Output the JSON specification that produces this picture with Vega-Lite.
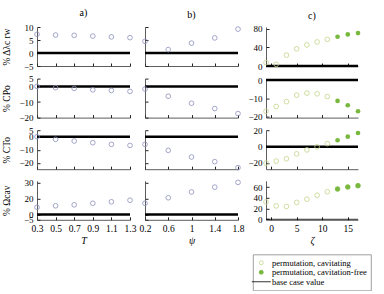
{
  "$schema": "https://vega.github.io/schema/vega-lite/v6.json",
  "padding": {"left": 1, "top": 7, "right": 0, "bottom": 0},
  "datasets": {
    "d": [
      {"p":"a","m":"dl","x":0.3,"v":7.2},{"p":"a","m":"dl","x":0.5,"v":6.9},{"p":"a","m":"dl","x":0.7,"v":6.8},{"p":"a","m":"dl","x":0.9,"v":6.5},{"p":"a","m":"dl","x":1.1,"v":6.2},{"p":"a","m":"dl","x":1.3,"v":5.9},
      {"p":"a","m":"cpo","x":0.3,"v":0},{"p":"a","m":"cpo","x":0.5,"v":-0.8},{"p":"a","m":"cpo","x":0.7,"v":-1.3},{"p":"a","m":"cpo","x":0.9,"v":-2.2},{"p":"a","m":"cpo","x":1.1,"v":-2.6},{"p":"a","m":"cpo","x":1.3,"v":-3.2},
      {"p":"a","m":"cto","x":0.3,"v":0},{"p":"a","m":"cto","x":0.5,"v":-2},{"p":"a","m":"cto","x":0.7,"v":-3.3},{"p":"a","m":"cto","x":0.9,"v":-4.6},{"p":"a","m":"cto","x":1.1,"v":-5.9},{"p":"a","m":"cto","x":1.3,"v":-6.7},
      {"p":"a","m":"cav","x":0.3,"v":6.9},{"p":"a","m":"cav","x":0.5,"v":8.3},{"p":"a","m":"cav","x":0.7,"v":9.2},{"p":"a","m":"cav","x":0.9,"v":10.7},{"p":"a","m":"cav","x":1.1,"v":12.1},{"p":"a","m":"cav","x":1.3,"v":13.6},
      {"p":"b","m":"dl","x":0.2,"v":4.5},{"p":"b","m":"dl","x":0.6,"v":1.3},{"p":"b","m":"dl","x":1.0,"v":3.8},{"p":"b","m":"dl","x":1.4,"v":5.8},{"p":"b","m":"dl","x":1.8,"v":9.2},
      {"p":"b","m":"cpo","x":0.2,"v":-1.7},{"p":"b","m":"cpo","x":0.6,"v":-6.3},{"p":"b","m":"cpo","x":1.0,"v":-10.8},{"p":"b","m":"cpo","x":1.4,"v":-14.2},{"p":"b","m":"cpo","x":1.8,"v":-17.4},
      {"p":"b","m":"cto","x":0.2,"v":-5.9},{"p":"b","m":"cto","x":0.6,"v":-10.5},{"p":"b","m":"cto","x":1.0,"v":-15.6},{"p":"b","m":"cto","x":1.4,"v":-19.2},{"p":"b","m":"cto","x":1.8,"v":-23.8},
      {"p":"b","m":"cav","x":0.2,"v":10.7},{"p":"b","m":"cav","x":0.6,"v":15.9},{"p":"b","m":"cav","x":1.0,"v":21.4},{"p":"b","m":"cav","x":1.4,"v":26},{"p":"b","m":"cav","x":1.8,"v":30.5},
      {"p":"c","m":"dl","x":-1,"v":7.2,"s":"o"},{"p":"c","m":"dl","x":1,"v":3.6,"s":"o"},{"p":"c","m":"dl","x":3,"v":23.4,"s":"o"},{"p":"c","m":"dl","x":5,"v":37,"s":"o"},{"p":"c","m":"dl","x":7,"v":45.4,"s":"o"},{"p":"c","m":"dl","x":9,"v":51.8,"s":"o"},{"p":"c","m":"dl","x":11,"v":57.3,"s":"o"},{"p":"c","m":"dl","x":13,"v":63,"s":"f"},{"p":"c","m":"dl","x":15,"v":68,"s":"f"},{"p":"c","m":"dl","x":17,"v":71,"s":"f"},
      {"p":"c","m":"cpo","x":-1,"v":-17.2,"s":"o"},{"p":"c","m":"cpo","x":1,"v":-14.6,"s":"o"},{"p":"c","m":"cpo","x":3,"v":-11.9,"s":"o"},{"p":"c","m":"cpo","x":5,"v":-8.3,"s":"o"},{"p":"c","m":"cpo","x":7,"v":-7.2,"s":"o"},{"p":"c","m":"cpo","x":9,"v":-7.6,"s":"o"},{"p":"c","m":"cpo","x":11,"v":-9.1,"s":"o"},{"p":"c","m":"cpo","x":13,"v":-11.5,"s":"f"},{"p":"c","m":"cpo","x":15,"v":-13.9,"s":"f"},{"p":"c","m":"cpo","x":17,"v":-17.2,"s":"f"},
      {"p":"c","m":"cto","x":-1,"v":-20.4,"s":"o"},{"p":"c","m":"cto","x":1,"v":-17.9,"s":"o"},{"p":"c","m":"cto","x":3,"v":-15,"s":"o"},{"p":"c","m":"cto","x":5,"v":-8.9,"s":"o"},{"p":"c","m":"cto","x":7,"v":-4,"s":"o"},{"p":"c","m":"cto","x":9,"v":-0.2,"s":"o"},{"p":"c","m":"cto","x":11,"v":3.8,"s":"o"},{"p":"c","m":"cto","x":13,"v":8,"s":"f"},{"p":"c","m":"cto","x":15,"v":12.5,"s":"f"},{"p":"c","m":"cto","x":17,"v":17,"s":"f"},
      {"p":"c","m":"cav","x":-1,"v":32.5,"s":"o"},{"p":"c","m":"cav","x":1,"v":25,"s":"o"},{"p":"c","m":"cav","x":3,"v":24,"s":"o"},{"p":"c","m":"cav","x":5,"v":31.5,"s":"o"},{"p":"c","m":"cav","x":7,"v":37.6,"s":"o"},{"p":"c","m":"cav","x":9,"v":45,"s":"o"},{"p":"c","m":"cav","x":11,"v":51.5,"s":"o"},{"p":"c","m":"cav","x":13,"v":56.6,"s":"f"},{"p":"c","m":"cav","x":15,"v":60.4,"s":"f"},{"p":"c","m":"cav","x":17,"v":62.8,"s":"f"}
    ]
  },
  "data": {"name": "d"},
  "columns": 3,
  "spacing": {"row": 3.6, "column": 3},
  "concat": [
    {"title": {"text": "a)", "offset": 5.5}, "width": 93, "height": 39, "layer": [
      {"data": {"values": [{}]}, "mark": {"type": "rule", "color": "#000", "strokeWidth": 2.5}, "encoding": {"y": {"datum": 0, "type": "quantitative", "scale": {"domain": [-5, 10], "nice": false, "zero": false}, "axis": {"values": [-5, 0, 5, 10], "title": "% Δλc rw", "minExtent": 19, "maxExtent": 19}}}},
      {"transform": [{"filter": "datum.p=='a'&&datum.m=='dl'"}], "mark": {"type": "point", "color": "#8d91bc"}, "encoding": {
        "x": {"field": "x", "type": "quantitative", "scale": {"domain": [0.3, 1.3], "nice": false, "zero": false}, "axis": {"values": [0.3, 0.5, 0.7, 0.9, 1.1, 1.3], "labels": false, "title": null, "minExtent": 5}},
        "y": {"field": "v", "type": "quantitative", "scale": {"domain": [-5, 10], "nice": false, "zero": false}, "axis": {"values": [-5, 0, 5, 10], "title": "% Δλc rw", "minExtent": 19, "maxExtent": 19}}}}
    ]},
    {"title": {"text": "b)", "offset": 5.5}, "width": 93, "height": 39, "layer": [
      {"data": {"values": [{}]}, "mark": {"type": "rule", "color": "#000", "strokeWidth": 2.5}, "encoding": {"y": {"datum": 0, "type": "quantitative", "scale": {"domain": [-5, 10], "nice": false, "zero": false}, "axis": {"values": [-5, 0, 5, 10], "labels": false, "title": null}}}},
      {"transform": [{"filter": "datum.p=='b'&&datum.m=='dl'"}], "mark": {"type": "point", "color": "#8d91bc"}, "encoding": {
        "x": {"field": "x", "type": "quantitative", "scale": {"domain": [0.2, 1.8], "nice": false, "zero": false}, "axis": {"values": [0.2, 0.6, 1, 1.4, 1.8], "labels": false, "title": null, "minExtent": 5}},
        "y": {"field": "v", "type": "quantitative", "scale": {"domain": [-5, 10], "nice": false, "zero": false}, "axis": {"values": [-5, 0, 5, 10], "labels": false, "title": null}}}}
    ]},
    {"title": {"text": "c)", "offset": 3.5}, "width": 92, "height": 39, "layer": [
      {"data": {"values": [{}]}, "mark": {"type": "rule", "color": "#000", "strokeWidth": 2.5}, "encoding": {"y": {"datum": 0, "type": "quantitative", "scale": {"domain": [0, 84], "nice": false, "zero": false}, "axis": {"values": [0, 40, 80], "title": null, "minExtent": 18, "maxExtent": 18}}}},
      {"transform": [{"filter": "datum.p=='c'&&datum.m=='dl'&&datum.s=='o'"}], "mark": {"type": "point", "color": "#c3d48a"}, "encoding": {
        "x": {"field": "x", "type": "quantitative", "scale": {"domain": [-1, 17], "nice": false, "zero": false}, "axis": {"values": [0, 5, 10, 15], "labels": false, "title": null, "minExtent": 5}},
        "y": {"field": "v", "type": "quantitative", "scale": {"domain": [0, 84], "nice": false, "zero": false}, "axis": {"values": [0, 40, 80], "title": null, "minExtent": 18, "maxExtent": 18}}}},
      {"transform": [{"filter": "datum.p=='c'&&datum.m=='dl'&&datum.s=='f'"}], "mark": {"type": "point", "color": "#79b83f", "filled": true}, "encoding": {
        "x": {"field": "x", "type": "quantitative", "scale": {"domain": [-1, 17], "nice": false, "zero": false}, "axis": {"values": [0, 5, 10, 15], "labels": false, "title": null, "minExtent": 5}},
        "y": {"field": "v", "type": "quantitative", "scale": {"domain": [0, 84], "nice": false, "zero": false}, "axis": {"values": [0, 40, 80], "title": null, "minExtent": 18, "maxExtent": 18}}}}
    ]},

    {"width": 93, "height": 39, "layer": [
      {"data": {"values": [{}]}, "mark": {"type": "rule", "color": "#000", "strokeWidth": 2.5}, "encoding": {"y": {"datum": 0, "type": "quantitative", "scale": {"domain": [-20, 5], "nice": false, "zero": false}, "axis": {"values": [-20, -10, 0, 5], "title": "% CPo", "minExtent": 19, "maxExtent": 19}}}},
      {"transform": [{"filter": "datum.p=='a'&&datum.m=='cpo'"}], "mark": {"type": "point", "color": "#8d91bc"}, "encoding": {
        "x": {"field": "x", "type": "quantitative", "scale": {"domain": [0.3, 1.3], "nice": false, "zero": false}, "axis": {"values": [0.3, 0.5, 0.7, 0.9, 1.1, 1.3], "labels": false, "title": null, "minExtent": 5}},
        "y": {"field": "v", "type": "quantitative", "scale": {"domain": [-20, 5], "nice": false, "zero": false}, "axis": {"values": [-20, -10, 0, 5], "title": "% CPo", "minExtent": 19, "maxExtent": 19}}}}
    ]},
    {"width": 93, "height": 39, "layer": [
      {"data": {"values": [{}]}, "mark": {"type": "rule", "color": "#000", "strokeWidth": 2.5}, "encoding": {"y": {"datum": 0, "type": "quantitative", "scale": {"domain": [-20, 5], "nice": false, "zero": false}, "axis": {"values": [-20, -10, 0, 5], "labels": false, "title": null}}}},
      {"transform": [{"filter": "datum.p=='b'&&datum.m=='cpo'"}], "mark": {"type": "point", "color": "#8d91bc"}, "encoding": {
        "x": {"field": "x", "type": "quantitative", "scale": {"domain": [0.2, 1.8], "nice": false, "zero": false}, "axis": {"values": [0.2, 0.6, 1, 1.4, 1.8], "labels": false, "title": null, "minExtent": 5}},
        "y": {"field": "v", "type": "quantitative", "scale": {"domain": [-20, 5], "nice": false, "zero": false}, "axis": {"values": [-20, -10, 0, 5], "labels": false, "title": null}}}}
    ]},
    {"width": 92, "height": 39, "layer": [
      {"data": {"values": [{}]}, "mark": {"type": "rule", "color": "#000", "strokeWidth": 2.5}, "encoding": {"y": {"datum": 0, "type": "quantitative", "scale": {"domain": [-20.7, 0.8], "nice": false, "zero": false}, "axis": {"values": [-20, -10, 0], "title": null, "minExtent": 18, "maxExtent": 18}}}},
      {"transform": [{"filter": "datum.p=='c'&&datum.m=='cpo'&&datum.s=='o'"}], "mark": {"type": "point", "color": "#c3d48a"}, "encoding": {
        "x": {"field": "x", "type": "quantitative", "scale": {"domain": [-1, 17], "nice": false, "zero": false}, "axis": {"values": [0, 5, 10, 15], "labels": false, "title": null, "minExtent": 5}},
        "y": {"field": "v", "type": "quantitative", "scale": {"domain": [-20.7, 0.8], "nice": false, "zero": false}, "axis": {"values": [-20, -10, 0], "title": null, "minExtent": 18, "maxExtent": 18}}}},
      {"transform": [{"filter": "datum.p=='c'&&datum.m=='cpo'&&datum.s=='f'"}], "mark": {"type": "point", "color": "#79b83f", "filled": true}, "encoding": {
        "x": {"field": "x", "type": "quantitative", "scale": {"domain": [-1, 17], "nice": false, "zero": false}, "axis": {"values": [0, 5, 10, 15], "labels": false, "title": null, "minExtent": 5}},
        "y": {"field": "v", "type": "quantitative", "scale": {"domain": [-20.7, 0.8], "nice": false, "zero": false}, "axis": {"values": [-20, -10, 0], "title": null, "minExtent": 18, "maxExtent": 18}}}}
    ]},

    {"width": 93, "height": 39, "layer": [
      {"data": {"values": [{}]}, "mark": {"type": "rule", "color": "#000", "strokeWidth": 2.5}, "encoding": {"y": {"datum": 0, "type": "quantitative", "scale": {"domain": [-25, 5], "nice": false, "zero": false}, "axis": {"values": [-20, -10, 0, 5], "title": "% CTo", "minExtent": 19, "maxExtent": 19}}}},
      {"transform": [{"filter": "datum.p=='a'&&datum.m=='cto'"}], "mark": {"type": "point", "color": "#8d91bc"}, "encoding": {
        "x": {"field": "x", "type": "quantitative", "scale": {"domain": [0.3, 1.3], "nice": false, "zero": false}, "axis": {"values": [0.3, 0.5, 0.7, 0.9, 1.1, 1.3], "labels": false, "title": null, "minExtent": 5}},
        "y": {"field": "v", "type": "quantitative", "scale": {"domain": [-25, 5], "nice": false, "zero": false}, "axis": {"values": [-20, -10, 0, 5], "title": "% CTo", "minExtent": 19, "maxExtent": 19}}}}
    ]},
    {"width": 93, "height": 39, "layer": [
      {"data": {"values": [{}]}, "mark": {"type": "rule", "color": "#000", "strokeWidth": 2.5}, "encoding": {"y": {"datum": 0, "type": "quantitative", "scale": {"domain": [-25, 5], "nice": false, "zero": false}, "axis": {"values": [-20, -10, 0, 5], "labels": false, "title": null}}}},
      {"transform": [{"filter": "datum.p=='b'&&datum.m=='cto'"}], "mark": {"type": "point", "color": "#8d91bc"}, "encoding": {
        "x": {"field": "x", "type": "quantitative", "scale": {"domain": [0.2, 1.8], "nice": false, "zero": false}, "axis": {"values": [0.2, 0.6, 1, 1.4, 1.8], "labels": false, "title": null, "minExtent": 5}},
        "y": {"field": "v", "type": "quantitative", "scale": {"domain": [-25, 5], "nice": false, "zero": false}, "axis": {"values": [-20, -10, 0, 5], "labels": false, "title": null}}}}
    ]},
    {"width": 92, "height": 39, "layer": [
      {"data": {"values": [{}]}, "mark": {"type": "rule", "color": "#000", "strokeWidth": 2.5}, "encoding": {"y": {"datum": 0, "type": "quantitative", "scale": {"domain": [-28, 20.5], "nice": false, "zero": false}, "axis": {"values": [-20, 0, 20], "title": null, "minExtent": 18, "maxExtent": 18}}}},
      {"transform": [{"filter": "datum.p=='c'&&datum.m=='cto'&&datum.s=='o'"}], "mark": {"type": "point", "color": "#c3d48a"}, "encoding": {
        "x": {"field": "x", "type": "quantitative", "scale": {"domain": [-1, 17], "nice": false, "zero": false}, "axis": {"values": [0, 5, 10, 15], "labels": false, "title": null, "minExtent": 5}},
        "y": {"field": "v", "type": "quantitative", "scale": {"domain": [-28, 20.5], "nice": false, "zero": false}, "axis": {"values": [-20, 0, 20], "title": null, "minExtent": 18, "maxExtent": 18}}}},
      {"transform": [{"filter": "datum.p=='c'&&datum.m=='cto'&&datum.s=='f'"}], "mark": {"type": "point", "color": "#79b83f", "filled": true}, "encoding": {
        "x": {"field": "x", "type": "quantitative", "scale": {"domain": [-1, 17], "nice": false, "zero": false}, "axis": {"values": [0, 5, 10, 15], "labels": false, "title": null, "minExtent": 5}},
        "y": {"field": "v", "type": "quantitative", "scale": {"domain": [-28, 20.5], "nice": false, "zero": false}, "axis": {"values": [-20, 0, 20], "title": null, "minExtent": 18, "maxExtent": 18}}}}
    ]},

    {"width": 93, "height": 39, "layer": [
      {"data": {"values": [{}]}, "mark": {"type": "rule", "color": "#000", "strokeWidth": 2.5}, "encoding": {"y": {"datum": 0, "type": "quantitative", "scale": {"domain": [-5, 32], "nice": false, "zero": false}, "axis": {"values": [-5, 0, 15, 30], "title": "% Ωcav", "minExtent": 19, "maxExtent": 19}}}},
      {"transform": [{"filter": "datum.p=='a'&&datum.m=='cav'"}], "mark": {"type": "point", "color": "#8d91bc"}, "encoding": {
        "x": {"field": "x", "type": "quantitative", "scale": {"domain": [0.3, 1.3], "nice": false, "zero": false}, "axis": {"values": [0.3, 0.5, 0.7, 0.9, 1.1, 1.3], "title": "T", "titleFontStyle": "italic"}},
        "y": {"field": "v", "type": "quantitative", "scale": {"domain": [-5, 32], "nice": false, "zero": false}, "axis": {"values": [-5, 0, 15, 30], "title": "% Ωcav", "minExtent": 19, "maxExtent": 19}}}}
    ]},
    {"width": 93, "height": 39, "layer": [
      {"data": {"values": [{}]}, "mark": {"type": "rule", "color": "#000", "strokeWidth": 2.5}, "encoding": {"y": {"datum": 0, "type": "quantitative", "scale": {"domain": [-5, 32], "nice": false, "zero": false}, "axis": {"values": [-5, 0, 15, 30], "labels": false, "title": null}}}},
      {"transform": [{"filter": "datum.p=='b'&&datum.m=='cav'"}], "mark": {"type": "point", "color": "#8d91bc"}, "encoding": {
        "x": {"field": "x", "type": "quantitative", "scale": {"domain": [0.2, 1.8], "nice": false, "zero": false}, "axis": {"values": [0.2, 0.6, 1, 1.4, 1.8], "title": "ψ", "titleFontStyle": "italic"}},
        "y": {"field": "v", "type": "quantitative", "scale": {"domain": [-5, 32], "nice": false, "zero": false}, "axis": {"values": [-5, 0, 15, 30], "labels": false, "title": null}}}}
    ]},
    {"width": 92, "height": 39, "layer": [
      {"data": {"values": [{}]}, "mark": {"type": "rule"}, "encoding": {
        "y": {"datum": 0, "type": "quantitative", "scale": {"domain": [-1, 72], "nice": false, "zero": false}, "axis": {"values": [0, 20, 40, 60], "title": null, "minExtent": 18, "maxExtent": 18}},
        "stroke": {"datum": "base case value", "type": "nominal",
          "scale": {"domain": ["permutation, cavitating", "permutation, cavitation-free", "base case value"], "range": ["#c3d48a", "#79b83f", "#000000"]},
          "legend": {"title": null, "orient": "none", "legendX": 216, "legendY": 227.5, "symbolSize": 16, "labelOffset": 6.5}},
        "strokeWidth": {"datum": "base case value", "type": "ordinal",
          "scale": {"domain": ["permutation, cavitating", "permutation, cavitation-free", "base case value"], "range": [0.8, 0.8, 2.5]},
          "legend": {"title": null, "orient": "none", "legendX": 216, "legendY": 227.5, "symbolSize": 16, "labelOffset": 6.5}}}},
      {"transform": [{"filter": "datum.p=='c'&&datum.m=='cav'&&datum.s=='o'"}], "mark": {"type": "point"}, "encoding": {
        "x": {"field": "x", "type": "quantitative", "scale": {"domain": [-1, 17], "nice": false, "zero": false}, "axis": {"values": [0, 5, 10, 15], "title": "ζ", "titleFontStyle": "italic"}},
        "y": {"field": "v", "type": "quantitative", "scale": {"domain": [-1, 72], "nice": false, "zero": false}, "axis": {"values": [0, 20, 40, 60], "title": null, "minExtent": 18, "maxExtent": 18}},
        "stroke": {"datum": "permutation, cavitating", "type": "nominal",
          "scale": {"domain": ["permutation, cavitating", "permutation, cavitation-free", "base case value"], "range": ["#c3d48a", "#79b83f", "#000000"]},
          "legend": {"title": null, "orient": "none", "legendX": 216, "legendY": 227.5, "symbolSize": 16, "labelOffset": 6.5}},
        "strokeWidth": {"datum": "permutation, cavitating", "type": "ordinal",
          "scale": {"domain": ["permutation, cavitating", "permutation, cavitation-free", "base case value"], "range": [0.8, 0.8, 2.5]},
          "legend": {"title": null, "orient": "none", "legendX": 216, "legendY": 227.5, "symbolSize": 16, "labelOffset": 6.5}},
        "shape": {"datum": "permutation, cavitating", "type": "nominal",
          "scale": {"domain": ["permutation, cavitating", "permutation, cavitation-free", "base case value"], "range": ["circle", "circle", "M-4.75,0H4.75"]},
          "legend": {"title": null, "orient": "none", "legendX": 216, "legendY": 227.5, "symbolSize": 16, "labelOffset": 6.5}},
        "fill": {"datum": "permutation, cavitating", "type": "nominal",
          "scale": {"domain": ["permutation, cavitating", "permutation, cavitation-free", "base case value"], "range": ["transparent", "#79b83f", "transparent"]},
          "legend": {"title": null, "orient": "none", "legendX": 216, "legendY": 227.5, "symbolSize": 16, "labelOffset": 6.5}}}},
      {"transform": [{"filter": "datum.p=='c'&&datum.m=='cav'&&datum.s=='f'"}], "mark": {"type": "point", "filled": true}, "encoding": {
        "x": {"field": "x", "type": "quantitative", "scale": {"domain": [-1, 17], "nice": false, "zero": false}, "axis": {"values": [0, 5, 10, 15], "title": "ζ", "titleFontStyle": "italic"}},
        "y": {"field": "v", "type": "quantitative", "scale": {"domain": [-1, 72], "nice": false, "zero": false}, "axis": {"values": [0, 20, 40, 60], "title": null, "minExtent": 18, "maxExtent": 18}},
        "stroke": {"datum": "permutation, cavitation-free", "type": "nominal",
          "scale": {"domain": ["permutation, cavitating", "permutation, cavitation-free", "base case value"], "range": ["#c3d48a", "#79b83f", "#000000"]},
          "legend": {"title": null, "orient": "none", "legendX": 216, "legendY": 227.5, "symbolSize": 16, "labelOffset": 6.5}},
        "strokeWidth": {"datum": "permutation, cavitation-free", "type": "ordinal",
          "scale": {"domain": ["permutation, cavitating", "permutation, cavitation-free", "base case value"], "range": [0.8, 0.8, 2.5]},
          "legend": {"title": null, "orient": "none", "legendX": 216, "legendY": 227.5, "symbolSize": 16, "labelOffset": 6.5}},
        "shape": {"datum": "permutation, cavitation-free", "type": "nominal",
          "scale": {"domain": ["permutation, cavitating", "permutation, cavitation-free", "base case value"], "range": ["circle", "circle", "M-4.75,0H4.75"]},
          "legend": {"title": null, "orient": "none", "legendX": 216, "legendY": 227.5, "symbolSize": 16, "labelOffset": 6.5}},
        "fill": {"datum": "permutation, cavitation-free", "type": "nominal",
          "scale": {"domain": ["permutation, cavitating", "permutation, cavitation-free", "base case value"], "range": ["transparent", "#79b83f", "transparent"]},
          "legend": {"title": null, "orient": "none", "legendX": 216, "legendY": 227.5, "symbolSize": 16, "labelOffset": 6.5}}}}
    ]}
  ],
  "config": {
    "font": "Liberation Serif",
    "numberFormat": "~r",
    "view": {"stroke": null},
    "title": {"font": "Liberation Serif", "fontSize": 10, "fontWeight": "normal", "color": "#000", "anchor": "middle"},
    "point": {"shape": "circle", "size": 22, "strokeWidth": 0.8, "opacity": 1},
    "axis": {"grid": false, "domainColor": "#333", "domainWidth": 0.8, "tickColor": "#222", "tickWidth": 1, "tickSize": -3,
      "labelPadding": 7, "labelFont": "Liberation Serif", "labelFontSize": 9, "labelColor": "#000", "labelOverlap": false, "labelFlush": false,
      "titleFont": "Liberation Serif", "titleFontSize": 9.5, "titleFontWeight": "normal", "titleColor": "#000", "titlePadding": 6.5},
    "axisY": {"minExtent": 0},
    "axisX": {"titlePadding": 2, "titleFontSize": 10, "labelFontSize": 9.5},
    "legend": {"labelFont": "Liberation Serif", "labelFontSize": 8.5, "labelColor": "#000", "strokeColor": "#888", "strokeWidth": 0.8,
      "padding": 4, "cornerRadius": 0, "rowPadding": 0.5}
  }
}
